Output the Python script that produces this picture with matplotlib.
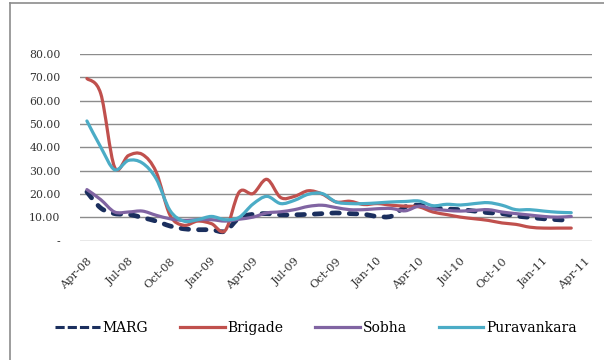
import numpy as np
import matplotlib
matplotlib.use('Agg')
import matplotlib.pyplot as plt
from matplotlib.path import Path
from matplotlib.patches import PathPatch
from matplotlib.lines import Line2D

# axis slots Apr-08 .. Apr-11, data runs Apr-08 .. Mar-11
months = ['Apr-08', 'May-08', 'Jun-08', 'Jul-08', 'Aug-08', 'Sep-08', 'Oct-08', 'Nov-08', 'Dec-08',
          'Jan-09', 'Feb-09', 'Mar-09', 'Apr-09', 'May-09', 'Jun-09', 'Jul-09', 'Aug-09', 'Sep-09',
          'Oct-09', 'Nov-09', 'Dec-09', 'Jan-10', 'Feb-10', 'Mar-10', 'Apr-10', 'May-10', 'Jun-10',
          'Jul-10', 'Aug-10', 'Sep-10', 'Oct-10', 'Nov-10', 'Dec-10', 'Jan-11', 'Feb-11', 'Mar-11',
          'Apr-11']

marg = [20.9, 14.0, 11.6, 11.3, 9.9, 8.4, 6.3, 5.1, 4.7, 4.7, 4.1, 9.8,
        11.3, 11.6, 11.1, 11.1, 11.3, 11.6, 11.9, 11.6, 11.3, 10.4, 10.5, 14.5,
        15.2, 14.2, 13.6, 13.3, 12.7, 12.0, 11.6, 10.6, 10.0, 9.4, 9.0, 8.7]
brigade = [69.5, 63.0, 31.5, 36.5, 37.0, 29.5, 11.0, 6.6, 8.4, 7.3, 4.4, 20.8,
           20.2, 26.3, 18.5, 19.0, 21.4, 20.0, 16.6, 16.9, 15.5, 15.9, 15.2, 14.8,
           14.5, 12.3, 11.2, 10.1, 9.4, 8.7, 7.6, 7.0, 5.8, 5.4, 5.4, 5.4]
sobha = [21.9, 17.6, 12.3, 12.3, 12.7, 10.9, 9.4, 8.7, 9.0, 9.0, 8.4, 9.2,
         10.1, 11.9, 12.4, 13.3, 14.7, 15.2, 14.2, 13.3, 13.3, 13.7, 13.8, 12.8,
         14.8, 13.6, 13.0, 12.7, 13.0, 13.3, 12.3, 11.6, 11.0, 10.4, 10.1, 10.4]
puravankara = [51.3, 40.1, 30.4, 34.4, 33.3, 26.6, 13.0, 8.4, 9.0, 10.4, 9.0, 10.0,
               15.7, 19.0, 15.9, 17.3, 19.9, 20.2, 16.6, 15.9, 15.9, 16.2, 16.6, 16.8,
               17.0, 15.0, 15.6, 15.3, 15.9, 16.3, 15.2, 13.3, 13.3, 12.7, 12.2, 12.0]

series = [('MARG', marg, '#1B2F5E', 'dash'),
          ('Brigade', brigade, '#C0504D', 'solid'),
          ('Sobha', sobha, '#8064A2', 'solid'),
          ('Puravankara', puravankara, '#4BACC6', 'solid')]


def smooth_path(x, y):
    # Excel-style smoothed line: cubic bezier with catmull-rom control points
    pts = np.column_stack([x, y]).astype(float)
    n = len(pts)
    verts = [pts[0]]
    codes = [Path.MOVETO]
    for i in range(n - 1):
        p0 = pts[max(i - 1, 0)]
        p1 = pts[i]
        p2 = pts[i + 1]
        p3 = pts[min(i + 2, n - 1)]
        verts += [p1 + (p2 - p0) / 6, p2 - (p3 - p1) / 6, p2]
        codes += [Path.CURVE4] * 3
    return Path(verts, codes)


fig = plt.figure(figsize=(6.04, 3.6), dpi=100)
ax = fig.add_axes([80 / 604, 1 - 240.7 / 360, 512 / 604, (240.7 - 54) / 360])

handles = []
for name, vals, color, style in series:
    x = np.arange(len(vals))
    if style == 'dash':
        patch = PathPatch(smooth_path(x, vals), fill=False, edgecolor=color, lw=3.4,
                          linestyle=(0, (1.6, 2.1)), capstyle='round', joinstyle='round', zorder=3)
        handles.append(Line2D([], [], color=color, lw=2.2, linestyle=(0, (3, 1))))
    else:
        patch = PathPatch(smooth_path(x, vals), fill=False, edgecolor=color, lw=2.3,
                          capstyle='round', joinstyle='round', zorder=3)
        handles.append(Line2D([], [], color=color, lw=2.3))
    ax.add_patch(patch)

ax.set_xlim(-0.5, len(months) - 0.5)
ax.set_ylim(0, 80)
ax.set_yticks(np.arange(0, 81, 10))
ax.set_yticklabels(['-'] + ['%.2f' % v for v in np.arange(10, 81, 10)],
                   family='DejaVu Serif', fontsize=7.8, color='#333333')
ax.yaxis.grid(True, color='#8C8C8C', lw=1.0)
ax.set_axisbelow(True)
ax.tick_params(axis='y', length=0, pad=14)

tick_pos = np.arange(0, len(months), 3)
ax.set_xticks(tick_pos)
ax.set_xticklabels([months[i] for i in tick_pos], rotation=45, ha='right', va='top',
                   rotation_mode='anchor', family='DejaVu Serif', fontsize=8.2, color='#333333')
ax.tick_params(axis='x', length=0, pad=11)
for s in ax.spines.values():
    s.set_visible(False)

fig.legend(handles, [s[0] for s in series], loc='center', ncol=4, frameon=False,
           bbox_to_anchor=(316 / 604, 1 - 328 / 360), prop={'family': 'DejaVu Serif', 'size': 10},
           handlelength=3.2, handletextpad=0.2, columnspacing=2.3)

# outer chart border (left and top edges visible)
fig.add_artist(Line2D([10 / 604, 10 / 604], [0, 1 - 3 / 360], color='#8C8C8C', lw=1.2))
fig.add_artist(Line2D([10 / 604, 1], [1 - 3 / 360, 1 - 3 / 360], color='#8C8C8C', lw=1.2))

fig.savefig('out.png', dpi=100)
